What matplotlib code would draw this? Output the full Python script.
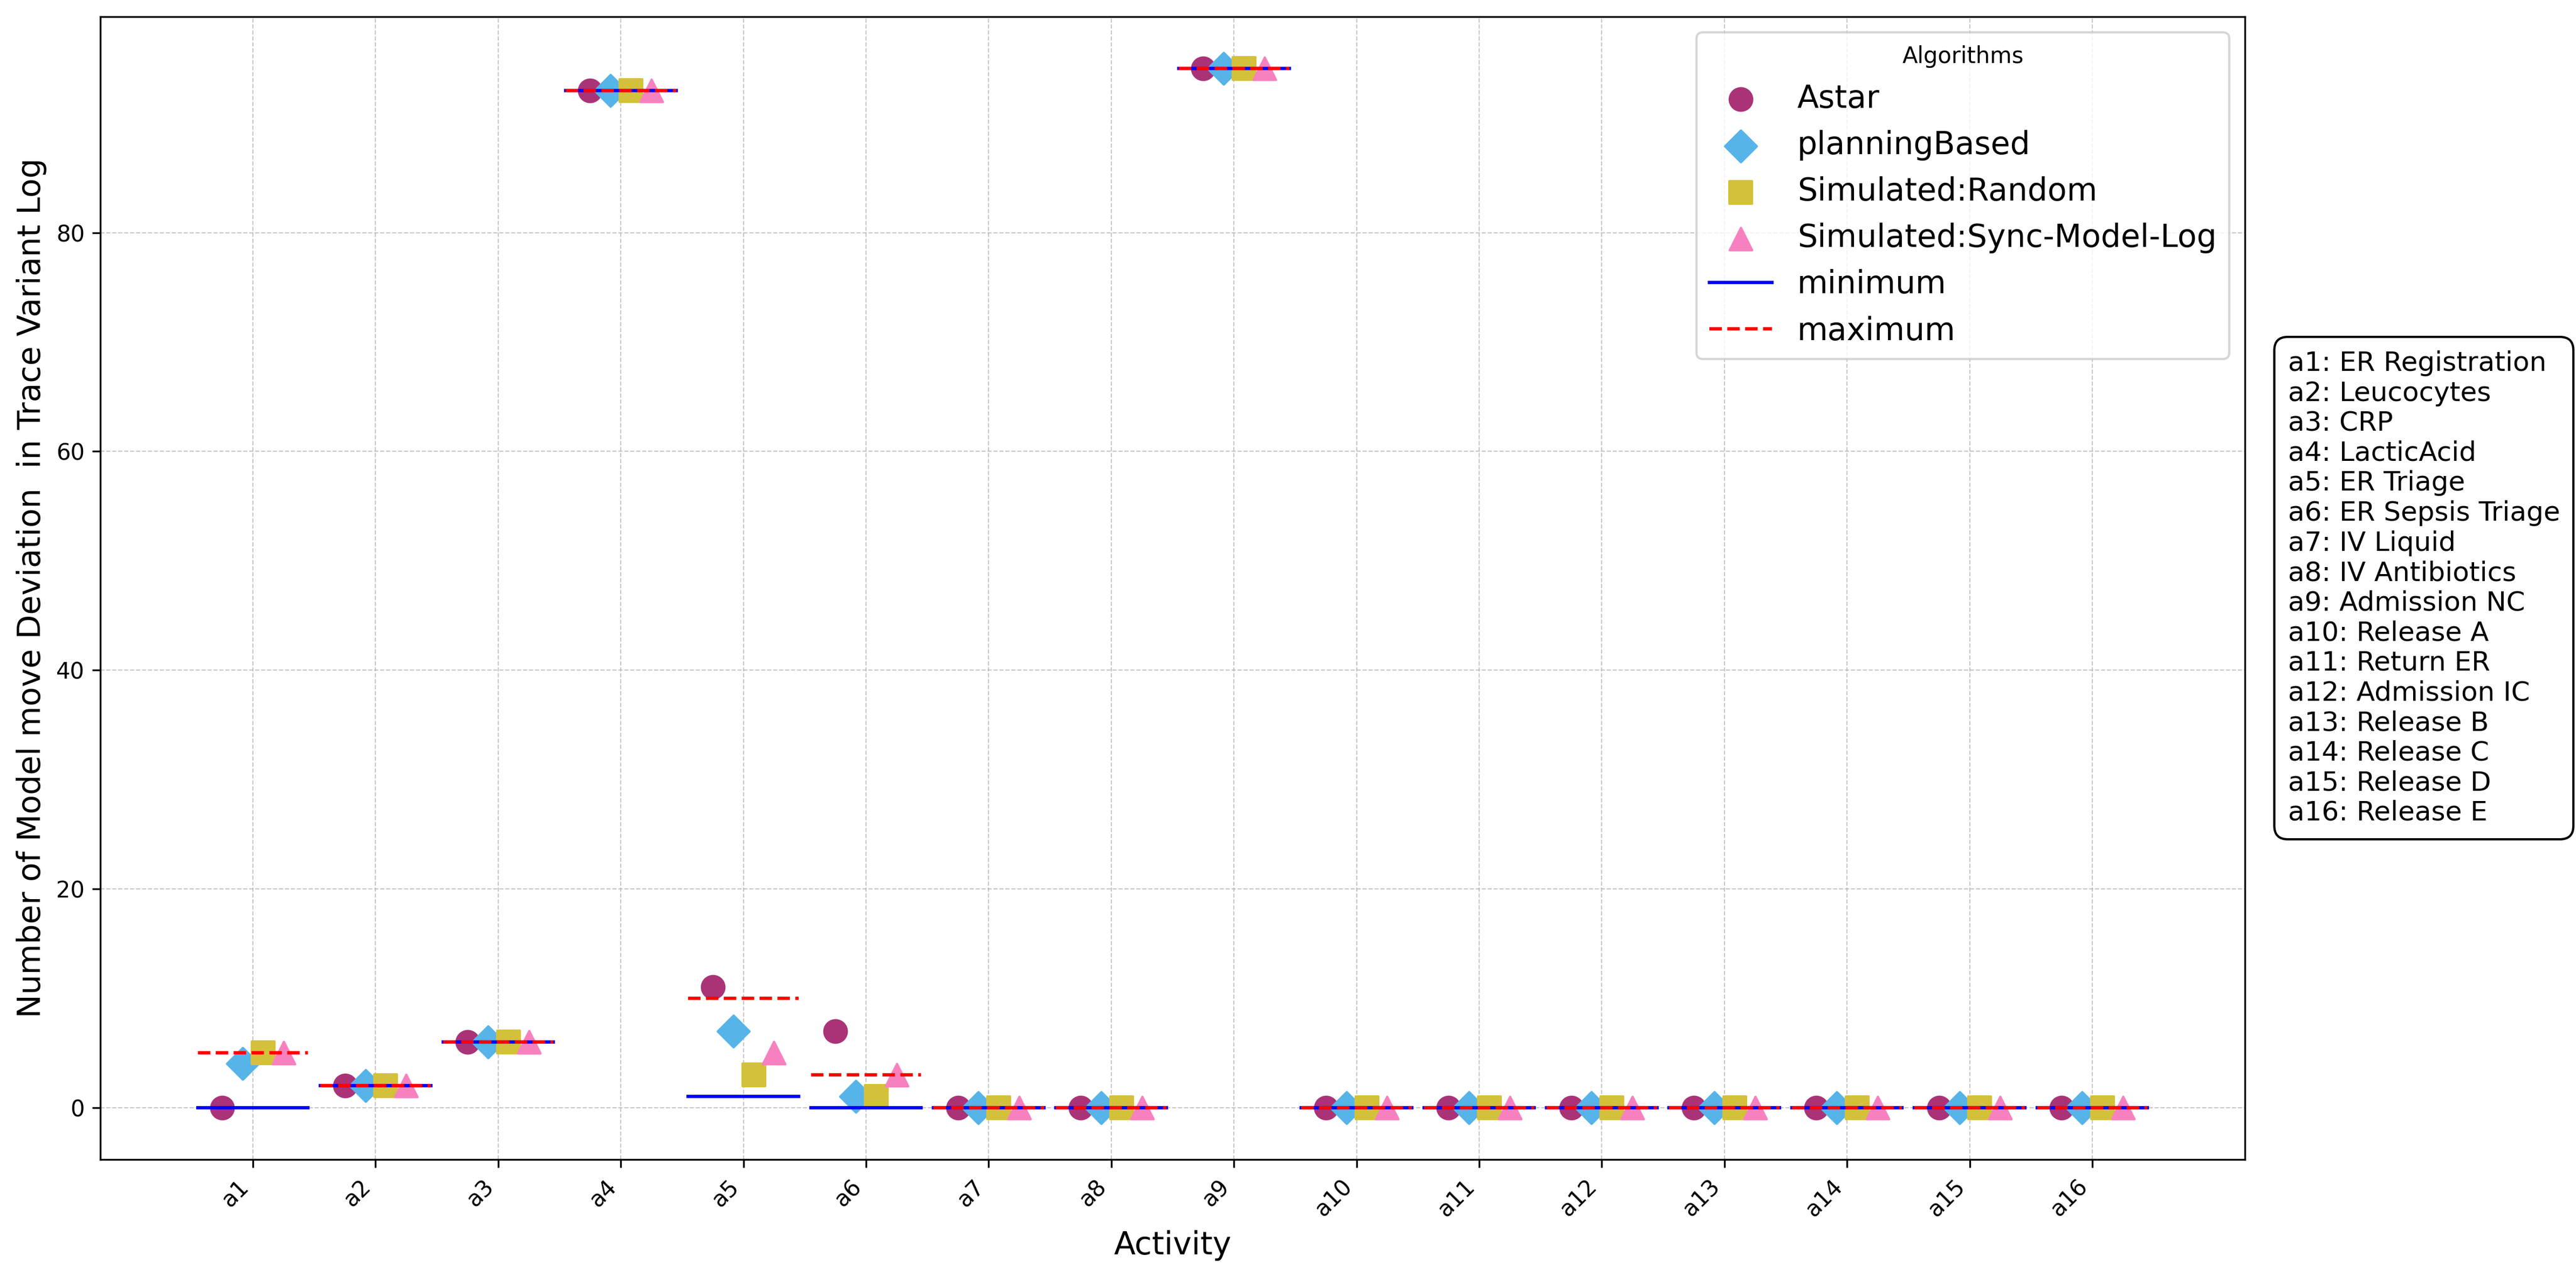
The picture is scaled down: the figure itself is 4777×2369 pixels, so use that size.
import matplotlib
matplotlib.use("Agg")
import matplotlib.pyplot as plt
import numpy as np

activities = ["a1", "a2", "a3", "a4", "a5", "a6", "a7", "a8", "a9", "a10",
              "a11", "a12", "a13", "a14", "a15", "a16"]
activity_names = ["ER Registration", "Leucocytes", "CRP", "LacticAcid", "ER Triage",
                  "ER Sepsis Triage", "IV Liquid", "IV Antibiotics", "Admission NC",
                  "Release A", "Return ER", "Admission IC", "Release B", "Release C",
                  "Release D", "Release E"]

astar = [0, 2, 6, 93, 11, 7, 0, 0, 95, 0, 0, 0, 0, 0, 0, 0]
planning_based = [4, 2, 6, 93, 7, 1, 0, 0, 95, 0, 0, 0, 0, 0, 0, 0]
sim_random = [5, 2, 6, 93, 3, 1, 0, 0, 95, 0, 0, 0, 0, 0, 0, 0]
sim_sync = [5, 2, 6, 93, 5, 3, 0, 0, 95, 0, 0, 0, 0, 0, 0, 0]
minimum = [0, 2, 6, 93, 1, 0, 0, 0, 95, 0, 0, 0, 0, 0, 0, 0]
maximum = [5, 2, 6, 93, 10, 3, 0, 0, 95, 0, 0, 0, 0, 0, 0, 0]

series = [
    ("Astar", astar, "o", "#AA3377"),
    ("planningBased", planning_based, "D", "#56B4E9"),
    ("Simulated:Random", sim_random, "s", "#D4C13A"),
    ("Simulated:Sync-Model-Log", sim_sync, "^", "#F781BF"),
]
offsets = [-0.25, -0.0833, 0.0833, 0.25]

W, H = 4777, 2369
DPI = 300
fig = plt.figure(figsize=(W / DPI, H / DPI), dpi=DPI)
ax = fig.add_axes([186 / W, 1 - 2151 / H, (4163 - 186) / W, (2151 - 31) / H])

x = np.arange(len(activities))
for (label, vals, marker, color), off in zip(series, offsets):
    ax.scatter(x + off, vals, marker=marker, s=100, color=color, label=label, zorder=2)

half = 0.45
for i, xi in enumerate(x):
    ax.plot([xi - half, xi + half], [minimum[i], minimum[i]], color="blue", lw=1.5,
            linestyle="-", label="minimum" if i == 0 else None, zorder=3)
for i, xi in enumerate(x):
    ax.plot([xi - half, xi + half], [maximum[i], maximum[i]], color="red", lw=1.5,
            linestyle="--", label="maximum" if i == 0 else None, zorder=3)

ax.set_xticks(x)
ax.set_xticklabels(activities, rotation=45, ha="right", fontsize=10)
ax.set_xlabel("Activity", fontsize=14)
ax.set_ylabel("Number of Model move Deviation  in Trace Variant Log", fontsize=14)
ax.grid(True, linestyle="--", linewidth=0.5, alpha=0.7, zorder=0)
ax.set_axisbelow(True)

ax.legend(title="Algorithms", fontsize=14, title_fontsize=10, loc="upper right")

mapping = "\n".join(f"{a}: {n}" for a, n in zip(activities, activity_names))
ax.text(1.02, 0.5, mapping, transform=ax.transAxes, fontsize=12, va="center", ha="left",
        bbox=dict(boxstyle="round,pad=0.5", facecolor="white", edgecolor="black"))

fig.savefig("out.png", dpi=DPI)
